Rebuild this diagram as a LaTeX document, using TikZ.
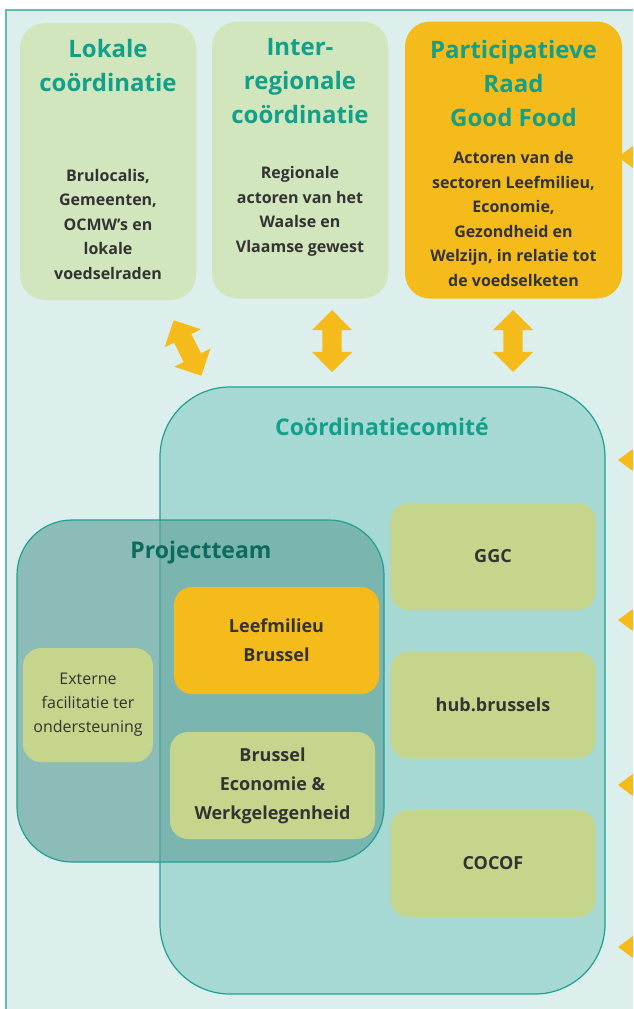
\documentclass[tikz,border=0pt]{standalone}
\usepackage{fontspec}
\setmainfont{Open Sans}
\usetikzlibrary{shapes.arrows,positioning}
\definecolor{achter}{HTML}{DCEFED}
\definecolor{rand}{HTML}{5DBFB0}
\definecolor{lichtgroen}{HTML}{D2E6BD}
\definecolor{oranje}{HTML}{F5BB1B}
\definecolor{titelgroen}{HTML}{12A08A}
\definecolor{tekst}{HTML}{333333}
\definecolor{comite}{HTML}{A7D9D4}
\definecolor{comiterand}{HTML}{1FA192}
\definecolor{team}{HTML}{64A39D}
\definecolor{olijf}{HTML}{C5D68C}
\definecolor{teamtitel}{HTML}{0B6B5E}
\tikzset{pijler/.style={rounded corners=25pt, minimum height=277pt, inner sep=0pt}}
\tikzset{orgaan/.style={fill=olijf, rounded corners=18pt, minimum width=205pt, minimum height=107pt, align=center, text=tekst, font=\bfseries\fontsize{18}{29}\selectfont}}
\tikzset{titel/.style={text=titelgroen, font=\bfseries\fontsize{24}{34}\selectfont, align=center}}
\tikzset{uitleg/.style={text=tekst, font=\bfseries\fontsize{16}{24.5}\selectfont, align=center}}
\tikzset{wissel/.style={double arrow, fill=oranje, minimum height=62pt, minimum width=40pt, inner xsep=0pt, inner ysep=9.5pt, double arrow head extend=10.5pt}}

\begin{document}
\begin{tikzpicture}[x=1pt, y=-1pt]
\useasboundingbox (0,0) rectangle (633,1009);
\clip (0,0) rectangle (633,1009);
% achtergrond
\fill[achter] (6,10) rectangle (660,1030);
\draw[rand, line width=1.5pt] (6,1030) -- (6,10) -- (660,10);

% bovenste rij
\node[pijler, fill=lichtgroen, minimum width=176pt] (lokaal) at (108,161.5) {};
\node[pijler, fill=lichtgroen, minimum width=176pt] (interreg) at (300,160) {};
\node[pijler, fill=oranje, minimum width=217pt] (raad) at (513.5,160) {};
\node[titel] (lokaaltitel) at (108,65) {Lokale\\coördinatie};
\node[titel] (interregtitel) at (300,81) {Inter-\\regionale\\coördinatie};
\node[titel] (raadtitel) at (513.5,83) {Participatieve\\Raad\\Good Food};
\node[uitleg] (lokaaltekst) at (108,224) {Brulocalis,\\Gemeenten,\\OCMW's en\\lokale\\voedselraden};
\node[uitleg] (interregtekst) at (300,211.5) {Regionale\\actoren van het\\Waalse en\\Vlaamse gewest};
\node[uitleg] (raadtekst) at (513.5,219) {Actoren van de\\sectoren Leefmilieu,\\Economie,\\Gezondheid en\\Welzijn, in relatie tot\\de voedselketen};

% comite en projectteam
\node[draw=comiterand, fill=comite, line width=1.2pt, rounded corners=70pt, minimum width=445pt, minimum height=607pt] (comite) at (382.5,690.5) {};
\node[titel, font=\bfseries\fontsize{23}{30}\selectfont] (comitetitel) at (382,427) {Coördinatiecomité};
\node[draw=comiterand, fill=team, fill opacity=0.66, line width=1.2pt, rounded corners=55pt, minimum width=367pt, minimum height=342pt] (team) at (200.5,691) {};
\node[text=teamtitel, font=\bfseries\fontsize{23}{30}\selectfont] (teamtitel) at (201,553) {Projectteam};

\node[orgaan, fill=oranje] (leefmilieu) at (276.5,640.5) {Leefmilieu\\Brussel};
\node[orgaan] (economie) at (272.5,785.5) {Brussel\\Economie \&\\Werkgelegenheid};
\node[orgaan, minimum width=130pt, minimum height=114pt, font=\fontsize{16}{24}\selectfont] (extern) at (88,705) {Externe\\facilitatie ter\\ondersteuning};
\node[orgaan] (ggc) at (493,556.5) {GGC};
\node[orgaan] (hub) at (493,705) {hub.brussels};
\node[orgaan] (cocof) at (493,863.5) {COCOF};

% pijlen
\node[wissel, rotate=-63.4] (pijl1) at (187.5,348) {};
\node[wissel, rotate=90] (pijl2) at (332,341) {};
\node[wissel, rotate=90] (pijl3) at (513,341) {};

% pijlpunten rechts
\fill[oranje] (618,157) -- (645,137) -- (645,177) -- cycle;
\fill[oranje] (618,460) -- (645,440) -- (645,480) -- cycle;
\fill[oranje] (618,620) -- (645,600) -- (645,640) -- cycle;
\fill[oranje] (618,785) -- (645,765) -- (645,805) -- cycle;
\fill[oranje] (618,947) -- (645,927) -- (645,967) -- cycle;
\end{tikzpicture}
\end{document}
